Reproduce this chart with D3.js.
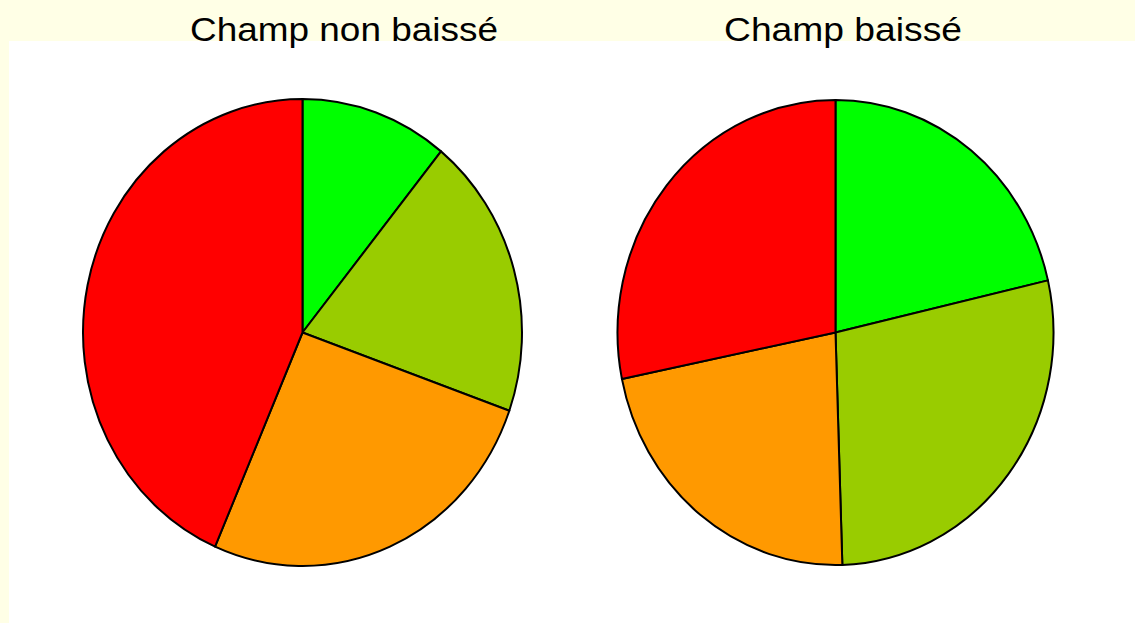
<!DOCTYPE html>
<html>
<head>
<meta charset="utf-8">
<script src="https://cdn.jsdelivr.net/npm/d3@7"></script>
<style>
  html, body { margin: 0; padding: 0; background: #ffffe6; }
  svg { display: block; }
</style>
</head>
<body>
<svg id="chart" width="1135" height="623"></svg>
<script>
// Data
const categories = ["Vert", "Jaune-vert", "Orange", "Rouge"];
const colors = ["#00ff00", "#99cc00", "#ff9900", "#ff0000"];
const titles = ["Champ non baissé", "Champ baissé"];
const valuesNonBaisse = [5, 9, 12, 20];
const valuesBaisse = [21.4, 28.1, 22.3, 28.2];

const W = 1135, H = 623;
const svg = d3.select("#chart");

svg.append("rect").attr("x", 0).attr("y", 0).attr("width", W).attr("height", H).attr("fill", "#ffffe6");
svg.append("rect").attr("x", 9).attr("y", 41).attr("width", W - 9).attr("height", H - 41).attr("fill", "#ffffff");

const pies = [
  { title: titles[0], values: valuesNonBaisse, cx: 302.5, cy: 332.5, rx: 219.5, ry: 233.5, tx: 344, tw: 308 },
  { title: titles[1], values: valuesBaisse, cx: 835.5, cy: 332.5, rx: 218, ry: 232.5, tx: 843, tw: 238 }
];

const pie = d3.pie().sort(null).value(d => d.v);

pies.forEach(p => {
  const data = p.values.map((v, i) => ({ v, c: colors[i], name: categories[i] }));
  const arc = d3.arc().innerRadius(0).outerRadius(p.ry);
  const g = svg.append("g")
    .attr("transform", `translate(${p.cx},${p.cy}) scale(${p.rx / p.ry},1)`);
  g.selectAll("path")
    .data(pie(data))
    .join("path")
    .attr("d", arc)
    .attr("fill", d => d.data.c)
    .attr("stroke", "#000")
    .attr("stroke-width", 2)
    .attr("stroke-linejoin", "round")
    .attr("vector-effect", "non-scaling-stroke");

  svg.append("text")
    .attr("x", p.tx)
    .attr("y", 41)
    .attr("text-anchor", "middle")
    .attr("font-family", "Liberation Sans, Arial, sans-serif")
    .attr("font-size", 34)
    .attr("textLength", p.tw)
    .attr("lengthAdjust", "spacingAndGlyphs")
    .attr("fill", "#000")
    .text(p.title);
});
</script>
</body>
</html>
